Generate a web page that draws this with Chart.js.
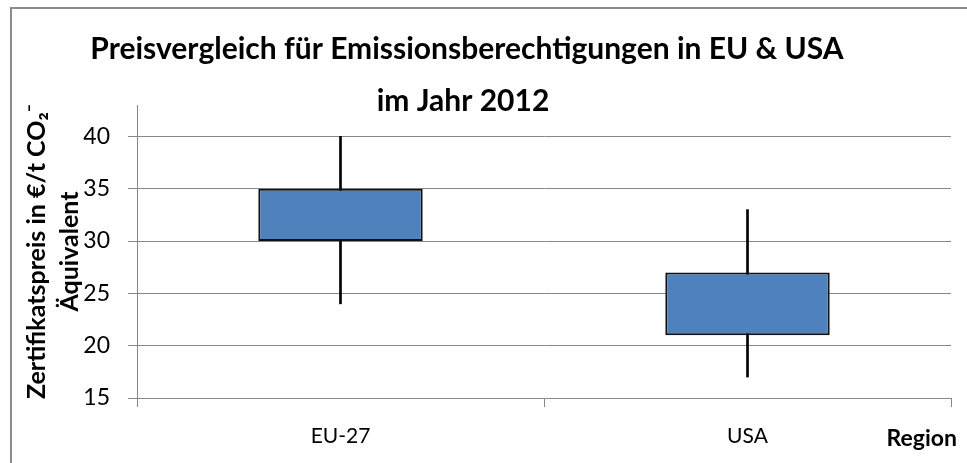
<!DOCTYPE html>
<html>
<head>
<meta charset="utf-8">
<script src="https://cdn.jsdelivr.net/npm/chart.js@4.4.0/dist/chart.umd.min.js"></script>
<style>
    html, body { margin: 0; padding: 0; background: #fff; }
    #chart { display: block; }
</style>
</head>
<body>
<canvas id="chart" width="967" height="463"></canvas>
<script>
// values (Excel stock-style chart)
const regions = ["EU-27", "USA"];
const lowValues = [24, 17];
const highValues = [40, 33];
const boxLow = [30, 21];
const boxHigh = [35, 27];
const yMin = 15;
const yMax = 43;
const yStep = 5;

const titleLines = ["Preisvergleich für Emissionsberechtigungen in EU & USA", "im Jahr 2012"];
const yTitle = ["Zertifikatspreis in €/t CO₂⁻", "Äquivalent"];
const xTitle = "Region";

const fontFamily = "Lato, 'Open Sans', sans-serif";
const gridGray = "#878787";

// frame, two-line title and the "Region" label, drawn over the canvas
const decorations = {
    id: "decorations",
    afterDraw(chart) {
        const ctx = chart.ctx;
        ctx.save();
        ctx.strokeStyle = "#8c8c8c";
        ctx.lineWidth = 2;
        ctx.beginPath();
        ctx.moveTo(11, chart.height + 2);
        ctx.lineTo(11, 8);
        ctx.lineTo(chart.width + 2, 8);
        ctx.stroke();

        ctx.fillStyle = "#000";
        ctx.textAlign = "center";
        ctx.textBaseline = "alphabetic";
        ctx.font = "bold 30px " + fontFamily;
        ctx.fillText(titleLines[0], 467, 59);
        ctx.fillText(titleLines[1], 463, 111);

        ctx.textAlign = "right";
        ctx.textBaseline = "middle";
        ctx.font = "bold 23px " + fontFamily;
        ctx.fillText(xTitle, 957, 439);
        ctx.restore();
    }
};

new Chart(document.getElementById("chart"), {
    type: "bar",
    data: {
        labels: regions,
        datasets: [
            {
                label: "Box",
                data: regions.map((r, i) => [boxLow[i], boxHigh[i]]),
                backgroundColor: "#4F81BD",
                borderColor: "#111",
                borderWidth: 2,
                borderSkipped: false,
                barPercentage: 0.404,
                categoryPercentage: 1,
                grouped: false,
                order: 1
            },
            {
                label: "Range",
                data: regions.map((r, i) => [lowValues[i], highValues[i]]),
                backgroundColor: "#000",
                barThickness: 2,
                grouped: false,
                order: 2
            }
        ]
    },
    options: {
        responsive: false,
        animation: false,
        layout: { padding: { left: 0, right: 16, top: 105, bottom: 0 } },
        plugins: {
            legend: { display: false },
            tooltip: { enabled: false }
        },
        scales: {
            x: {
                grid: { drawOnChartArea: false, drawTicks: true, tickLength: 9, color: gridGray },
                border: { color: gridGray, width: 1 },
                ticks: { font: { family: fontFamily, size: 21 }, color: "#000", padding: 17 },
                afterFit(scale) { scale.height = 65; }
            },
            y: {
                min: yMin,
                max: yMax,
                bounds: "data",
                grid: { color: gridGray, tickLength: 9 },
                border: { color: gridGray, width: 1 },
                ticks: {
                    stepSize: yStep,
                    font: { family: fontFamily, size: 23 },
                    color: "#000",
                    padding: 18
                },
                afterBuildTicks(scale) {
                    // only the multiples of the step, not the 43 bound
                    scale.ticks = scale.ticks.filter((t) => t.value % yStep === 0);
                },
                title: {
                    display: true,
                    text: yTitle,
                    font: { family: fontFamily, size: 25, weight: "bold", lineHeight: 1.32 },
                    color: "#000",
                    padding: { top: 20, bottom: 0 }
                },
                afterFit(scale) { scale.width = 137; }
            }
        }
    },
    plugins: [decorations]
});
</script>
</body>
</html>
